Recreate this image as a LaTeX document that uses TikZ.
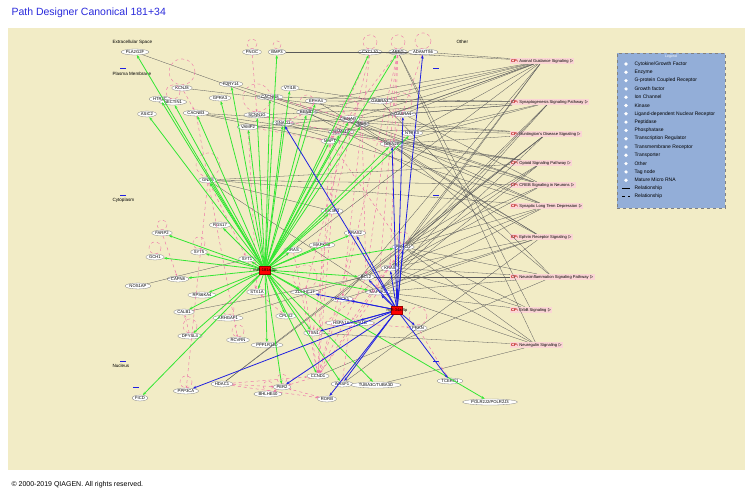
\documentclass[tikz,border=0pt]{standalone}
\usepackage{fontspec}
\setmainfont{Liberation Sans}
\usetikzlibrary{arrows.meta,shapes.geometric}
\definecolor{bgy}{HTML}{F2ECC6}
\definecolor{ttl}{HTML}{2A2ADC}
\definecolor{pk}{HTML}{EE70A8}
\definecolor{gr}{HTML}{33E633}
\definecolor{bl}{HTML}{2020E0}
\definecolor{lg}{HTML}{93AED8}
\definecolor{cpr}{HTML}{F7B3B3}
\begin{document}
\begin{tikzpicture}[x=1pt,y=-1pt,
 g/.style={ellipse,draw=gray,fill=white,line width=0.3pt,inner sep=0.6pt,font=\fontsize{4.2}{4.2}\selectfont},
 hub/.style={rectangle,fill=red,draw=red!60!black,minimum width=11pt,minimum height=8pt,inner sep=0pt},
 cp/.style={rectangle,fill=cpr!55,inner sep=1pt,font=\fontsize{4.1}{4.1}\selectfont},
 comp/.style={anchor=west,font=\fontsize{4.6}{4.6}\selectfont},
 ge/.style={gr,line width=0.8pt,-{Stealth[length=3.5pt]}},
 be/.style={bl,line width=0.8pt,-{Stealth[length=3.5pt]}},
 pe/.style={pk,line width=0.45pt,dashed,-{Stealth[length=2.5pt]}},
 ye/.style={gray!70!black,line width=0.3pt},
 lt/.style={anchor=west,font=\fontsize{5}{5}\selectfont}]
\useasboundingbox (0,0) rectangle (755,496);
\fill[white] (0,0) rectangle (755,496);
\fill[bgy] (8,28) rectangle (745,470);
\node[anchor=west,text=ttl,font=\fontsize{10.5}{10.5}\selectfont] (title) at (8,13) {Path Designer Canonical 181+34};
\node[anchor=west,font=\fontsize{7}{7}\selectfont] (copy) at (8,485) {© 2000-2019 QIAGEN. All rights reserved.};
\node[comp] (c1) at (109,42) {Extracellular Space};
\node[comp] (c2) at (109,74) {Plasma Membrane};
\node[comp] (c3) at (109,200) {Cytoplasm};
\node[comp] (c4) at (109,366) {Nucleus};
\node[comp] (c5) at (453,42) {Other};
\foreach \p in {(123,68),(123,195),(123,361),(436,68),(436,195),(436,361),(136,387)}{\draw[bl,line width=0.6pt] \p ++(-3,0) -- ++(6,0);}
% genes
\foreach \n/\x/\y in {PLA2G2F/135/52,PNOC/252/52,BMP3/277/52,CXCL10/370/52,AREG/398/52,ADAMTS6/423/52,
KCNJ8/182/88,HTR2C/160/99,NECTIN1/173/102,ASIC2/147/114,P2RY14/231/84,GPRA3/220/98,CACNB3/196/113,CACNG8/270/97,VTI1B/290/88,SCNN1G/257/115,EPHA4/316/101,EFNB1/307/112,VAMP2/248/127,GNAO1/283/123,GNAQ/350/119,MET/362/124,ADAM10/341/132,MAPT/330/141,GABRA3/380/101,GABRA1/403/114,NTRK3/412/133,GRIN2B/392/144,
GNAS/208/180,PIK3R3/332/211,RGS17/220/225,FARP2/162/233,SYT5/199/252,SYT1/247/259,GCH1/155/257,CAPN8/178/279,NOS1AP/138/286,RRAS/293/250,MAPK8B/322/245,RRAS2/355/233,PRKCD/403/247,BCL2/366/277,KRAS/390/268,MAP2K1/378/292,ZDHHC17/305/292,ROCK1/342/299,STX1A/257/292,RPS6KA4/202/295,CALB1/184/312,ARHGAP1/228/318,CPLX2/286/316,DPYSL4/190/336,RCVRN/238/340,ITSN1/313/333,PRKN/418/328,PPP1R14D/267/345,
FICD/140/398,PPP3CA/186/391,HDAC1/222/384,PER2/282/387,BHLHE40/268/394,CCND1/318/376,WASF1/342/384,RORB/327/399,TCERG1/450/381}
 {\node[g] (\n) at (\x,\y) {\n};}
\node[g] (HSPA) at (350,323) {HSPA1A/HSPA1B};
\node[g] (TUBA) at (376,385) {TUBA3C/TUBA3D};
\node[g] (POLR) at (490,402) {POLR2J2/POLR2J3};
% CP nodes
\foreach \i/\t/\y in {1/Axonal Guidance Signaling/61,2/Synaptogenesis Signaling Pathway/102,3/Huntington's Disease Signaling/134,4/Opioid Signaling Pathway/163,5/CREB Signaling in Neurons/185,6/Synaptic Long Term Depression/206,7/Ephrin Receptor Signaling/237,8/Neuroinflammation Signaling Pathway/277,9/ErbB Signaling/310,10/Neuregulin Signaling/345}
 {\node[cp,anchor=west] (cp\i) at (510,\y) {\textcolor{red!70!black}{\textbf{CP:}} \t\ $\triangleright$};}
% gray edges to CP
\foreach \a/\b in {GABRA3/1,GABRA1/1,NTRK3/1,MET/1,EPHA4/1,EFNB1/1,GNAQ/1,KRAS/1,PRKCD/1,ADAM10/1,ROCK1/1,RRAS/1,
VAMP2/2,GABRA3/2,GABRA1/2,GRIN2B/2,NTRK3/2,CACNG8/2,KRAS/2,PRKCD/2,MAP2K1/2,EPHA4/2,SCNN1G/2,
GNAQ/3,GRIN2B/3,HDAC1/3,BCL2/3,MAP2K1/3,PRKCD/3,CACNB3/3,VAMP2/3,
GNAS/4,GRIN2B/4,GNAO1/4,KRAS/4,CACNB3/4,PRKCD/4,MAP2K1/4,
GRIN2B/5,GNAQ/5,GNAS/5,GABRA1/5,KRAS/5,PRKCD/5,CACNG8/5,
GNAQ/6,GNAO1/6,GNAS/6,PRKCD/6,MAP2K1/6,KRAS/6,GRIN2B/6,
EPHA4/7,EFNB1/7,ROCK1/7,KRAS/7,MAP2K1/7,GNAQ/7,WASF1/7,
BCL2/8,PRKCD/8,GRIN2B/8,GABRA3/8,MAP2K1/8,KRAS/8,CCND1/8,
AREG/9,KRAS/9,MAP2K1/9,PRKCD/9,
AREG/10,KRAS/10,MAP2K1/10,PRKCD/10,TUBA/10,ITSN1/10}
 {\draw[ye] (\a) -- (cp\b);}
\foreach \a/\b in {PLA2G2F/GRIN2B,BMP3/ADAMTS6,VTI1B/GABRA3,KCNJ8/GABRA1,GNAS/PIK3R3,CACNB3/MAPT,NOS1AP/SYT1,P2RY14/MET,CXCL10/cp1,ADAMTS6/cp1,GNAS/MAP2K1,ARHGAP1/KRAS,HDAC1/PRKCD,CALB1/BCL2}
 {\draw[ye] (\a) -- (\b);}
% pink edges
\foreach \a/\b in {PNOC/SCNN1G,CXCL10/MAPT,CXCL10/ROCK1,AREG/MAPT,AREG/BCL2,AREG/KRAS,AREG/MAP2K1,ADAMTS6/GRIN2B,CXCL10/PIK3R3,AREG/ROCK1,MAPT/CCND1,GNAQ/ZDHHC17,MET/BCL2,ADAM10/ITSN1,PIK3R3/CCND1,RRAS2/CCND1,PRKCD/HSPA,BCL2/CCND1,ROCK1/CCND1,KRAS/ITSN1,MAP2K1/CCND1,ZDHHC17/CCND1,GNAS/RCVRN,GNAS/SYT1,SYT1/STX1A,STX1A/VAMP2,CACNB3/GNAS,HDAC1/PER2,PER2/BHLHE40,HDAC1/CCND1,RORB/PER2,HDAC1/RORB,PRKN/TCERG1,KCNJ8/CACNB3,EPHA4/EFNB1,GNAO1/EFNB1,CACNG8/GNAQ,SCNN1G/GRIN2B,VAMP2/MAPT,MAPT/PRKCD,HSPA/PRKN,CPLX2/STX1A,FARP2/CAPN8,DPYSL4/CALB1,PIK3R3/MAPT,PRKCD/CCND1,CCND1/PER2,HSPA/WASF1,GNAS/PPP3CA,MAPK8B/CCND1,RRAS/CCND1}
 {\draw[pe] (\a) -- (\b);}
\foreach \n/\r in {KCNJ8/13,SCNN1G/14,GNAS/12,CXCL10/7,AREG/7,ADAMTS6/8,NECTIN1/7,GABRA1/9,GNAQ/8,EFNB1/7,FARP2/5,GCH1/6,SYT5/6,ARHGAP1/6,DPYSL4/7,RCVRN/6,PRKN/9,PPP3CA/6,PER2/5,BHLHE40/5,ZDHHC17/12,PRKCD/6,PNOC/5,BMP3/4}
 {\draw[pk,dashed,line width=0.4pt] (\n.north) ++(0,-\r) circle[radius=\r];}
% green edges
\foreach \t in {PLA2G2F,BMP3,CXCL10,AREG,HTR2C,NECTIN1,ASIC2,P2RY14,GPRA3,CACNB3,CACNG8,VTI1B,SCNN1G,EPHA4,EFNB1,VAMP2,GNAO1,GNAQ,MAPT,ADAM10,MET,NTRK3,GRIN2B,GNAS,PIK3R3,RGS17,FARP2,SYT5,SYT1,GCH1,CAPN8,RRAS,MAPK8B,RRAS2,BCL2,MAP2K1,ZDHHC17,STX1A,RPS6KA4,CALB1,CPLX2,DPYSL4,ITSN1,PPP1R14D,FICD,PER2,CCND1,WASF1,TUBA,POLR,PRKCD}
 {\draw[ge] (265,270) -- (\t);}
% blue edges
\foreach \t in {ADAMTS6,GABRA1,GRIN2B,PRKCD,GNAO1,RRAS2,BCL2,KRAS,MAP2K1,ZDHHC17,ROCK1,HSPA,ITSN1,PRKN,TCERG1,WASF1,RORB,PPP3CA,PER2}
 {\draw[be] (397,310) -- (\t);}
\node[hub] (m181) at (265,270) {}; \node[font=\fontsize{4}{4}\selectfont] (l181) at (265,270) {miR-181a-5p};
\node[hub] (m34) at (397,310) {}; \node[font=\fontsize{4}{4}\selectfont] (l34) at (397,310) {miR-34a-5p};
% legend
\node[draw=gray,dashed,fill=lg,minimum width=108pt,minimum height=155pt,anchor=north west,inner sep=0pt] (leg) at (617,53) {};
\node[font=\fontsize{3.5}{3.5}\selectfont,text=white] (legt) at (671,57) {Legend};
\node[circle,fill=white,inner sep=1.3pt] (ls1) at (626,64) {};
\node[lt] (lt1) at (631,64) {Cytokine/Growth Factor};
\foreach \i/\t in {2/Enzyme,3/G-protein Coupled Receptor,4/Growth factor,5/Ion Channel,6/Kinase,7/Ligand-dependent Nuclear Receptor,8/Peptidase,9/Phosphatase,10/Transcription Regulator,11/Transmembrane Receptor,12/Transporter,13/Other,14/Tag node,15/Mature Micro RNA}
 {\node[circle,fill=white,inner sep=1.3pt] (ls\i) at (626,{55.7+\i*8.3}) {};
  \node[lt] (lt\i) at (631,{55.7+\i*8.3}) {\t};}
\node[lt] (lr1) at (631,188) {Relationship};
\draw[black,line width=0.4pt] (lr1.west) ++(-9,0) -- ++(8,0);
\node[lt] (lr2) at (631,196) {Relationship};
\draw[black,dashed,line width=0.4pt] (lr2.west) ++(-9,0) -- ++(8,0);
\end{tikzpicture}
\end{document}
